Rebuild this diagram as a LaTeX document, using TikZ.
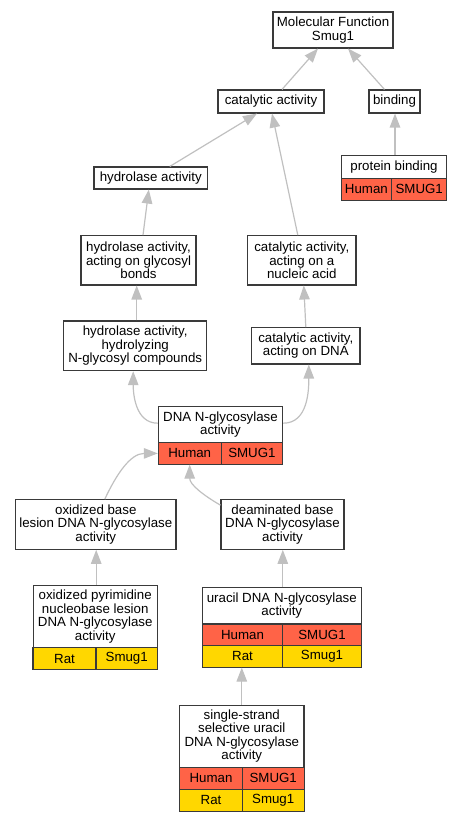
\documentclass[tikz,border=0pt]{standalone}
\usepackage{fontspec}
\setmainfont{Liberation Sans}
\usetikzlibrary{arrows.meta}
\definecolor{bordercol}{HTML}{3A3A3A}
\definecolor{edgecol}{HTML}{C0C0C0}
\definecolor{humancol}{HTML}{FF6347}
\definecolor{ratcol}{HTML}{FFD700}
\begin{document}
\begin{tikzpicture}[x=1pt,y=-1pt,
  box/.style={draw=bordercol, line width=1.1pt, fill=white, inner sep=0pt, align=center,
    font=\fontsize{13.3}{13.5}\selectfont},
  human/.style={box, fill=humancol},
  rat/.style={box, fill=ratcol},
  edge/.style={draw=edgecol, line width=1.2pt, -{Triangle[length=14pt,width=10.5pt]}}]
\useasboundingbox (0,0) rectangle (461,821);
% plain nodes
\node[box, minimum width=120pt, minimum height=36pt] (mf) at (333,30) {Molecular Function\\Smug1};
\node[box, minimum width=106pt, minimum height=23pt] (cat) at (271,101.5) {catalytic activity};
\node[box, minimum width=51pt, minimum height=23pt] (bind) at (394.5,101.5) {binding};
\node[box, minimum width=105.7pt, minimum height=23pt] (pb) at (394,166.8) {protein binding};
\node[human, minimum width=50.7pt, minimum height=21.7pt] (pbh) at (366.4,189.2) {Human};
\node[human, minimum width=55pt, minimum height=21.7pt] (pbg) at (419.2,189.2) {SMUG1};
\node[box, minimum width=113.7pt, minimum height=22pt] (hyd) at (150.8,178) {hydrolase activity};
\node[box, minimum width=115pt, minimum height=49.3pt] (hgb) at (138.5,260.3) {hydrolase activity,\\acting on glycosyl\\bonds};
\node[box, minimum width=108.3pt, minimum height=49.3pt] (cna) at (301.8,260.3) {catalytic activity,\\acting on a\\nucleic acid};
\node[box, minimum width=143pt, minimum height=49.7pt] (hnc) at (135.2,345.8) {hydrolase activity,\\hydrolyzing\\N-glycosyl compounds};
\node[box, minimum width=108.3pt, minimum height=36.3pt] (cdna) at (305.8,345.8) {catalytic activity,\\acting on DNA};
\node[box, minimum width=124.4pt, minimum height=36pt] (dng) at (220.5,424.7) {DNA N-glycosylase\\activity};
\node[human, minimum width=62.7pt, minimum height=21.3pt] (dngh) at (189.7,453.4) {Human};
\node[human, minimum width=61.7pt, minimum height=21.3pt] (dngg) at (251.9,453.4) {SMUG1};
\node[box, minimum width=160.3pt, minimum height=49.6pt] (obl) at (95.8,524.5) {oxidized base\\lesion DNA N-glycosylase\\activity};
\node[box, minimum width=123pt, minimum height=49.6pt] (dbd) at (282.5,524.5) {deaminated base\\DNA N-glycosylase\\activity};
\node[box, minimum width=124.3pt, minimum height=62.4pt] (opn) at (95.2,616.5) {oxidized pyrimidine\\nucleobase lesion\\DNA N-glycosylase\\activity};
\node[rat, minimum width=63pt, minimum height=21.6pt] (opnr) at (64.5,658.5) {Rat};
\node[rat, minimum width=61.3pt, minimum height=21.6pt] (opng) at (126.7,658.5) {Smug1};
\node[box, minimum width=159pt, minimum height=36.3pt] (ura) at (281.8,605.8) {uracil DNA N-glycosylase\\activity};
\node[human, minimum width=80.4pt, minimum height=21.3pt] (urah) at (242.5,634.7) {Human};
\node[human, minimum width=78.6pt, minimum height=21.3pt] (urahg) at (322,634.7) {SMUG1};
\node[rat, minimum width=80.4pt, minimum height=21.7pt] (urar) at (242.5,656.2) {Rat};
\node[rat, minimum width=78.6pt, minimum height=21.7pt] (urarg) at (322,656.2) {Smug1};
\node[box, minimum width=124.3pt, minimum height=62pt] (sss) at (241.8,736.3) {single-strand\\selective uracil\\DNA N-glycosylase\\activity};
\node[human, minimum width=62.6pt, minimum height=22pt] (sssh) at (211,778.3) {Human};
\node[human, minimum width=61.7pt, minimum height=22pt] (sshg) at (273.2,778.3) {SMUG1};
\node[rat, minimum width=62.6pt, minimum height=21.7pt] (sssr) at (211,800.2) {Rat};
\node[rat, minimum width=61.7pt, minimum height=21.7pt] (sssrg) at (273.2,800.2) {Smug1};
% edges
\draw[edge] ([xshift=11pt]cat.north) -- ([xshift=-15pt]mf.south);
\draw[edge] ([xshift=-10pt]bind.north) -- ([xshift=15pt]mf.south);
\draw[edge] ([xshift=19pt]hyd.north) -- ([xshift=-14pt]cat.south);
\draw[edge] ([xshift=-4pt]cna.north) -- ([xshift=1pt]cat.south);
\draw[edge] ([xshift=1pt]pb.north) -- ([xshift=1pt]pb.north |- bind.south);
\draw[edge] ([xshift=4.5pt]hgb.north) -- ([xshift=-2pt]hyd.south);
\draw[edge] ([xshift=1.5pt]hnc.north) -- ([xshift=1.5pt]hnc.north |- hgb.south);
\draw[edge] (cdna.north) -- ([xshift=2pt]cna.south);
\draw[edge] ([yshift=1.5pt]dng.west) to[out=180,in=-90] ([xshift=-2pt]hnc.south);
\draw[edge] ([yshift=1.5pt]dng.east) to[out=0,in=-90] ([xshift=3pt]cdna.south);
\draw[edge] ([xshift=9pt]obl.north) to[out=65,in=180] (dngh.west);
\draw[edge] ([yshift=-6pt]dbd.north west) to[out=150,in=-90] (dngh.south);
\draw[edge] ([xshift=1pt]opn.north) -- ([xshift=1pt]opn.north |- obl.south);
\draw[edge] ([xshift=1pt]ura.north) -- ([xshift=1pt]ura.north |- dbd.south);
\draw[edge] (sss.north) -- (sss.north |- urar.south);
\end{tikzpicture}
\end{document}
